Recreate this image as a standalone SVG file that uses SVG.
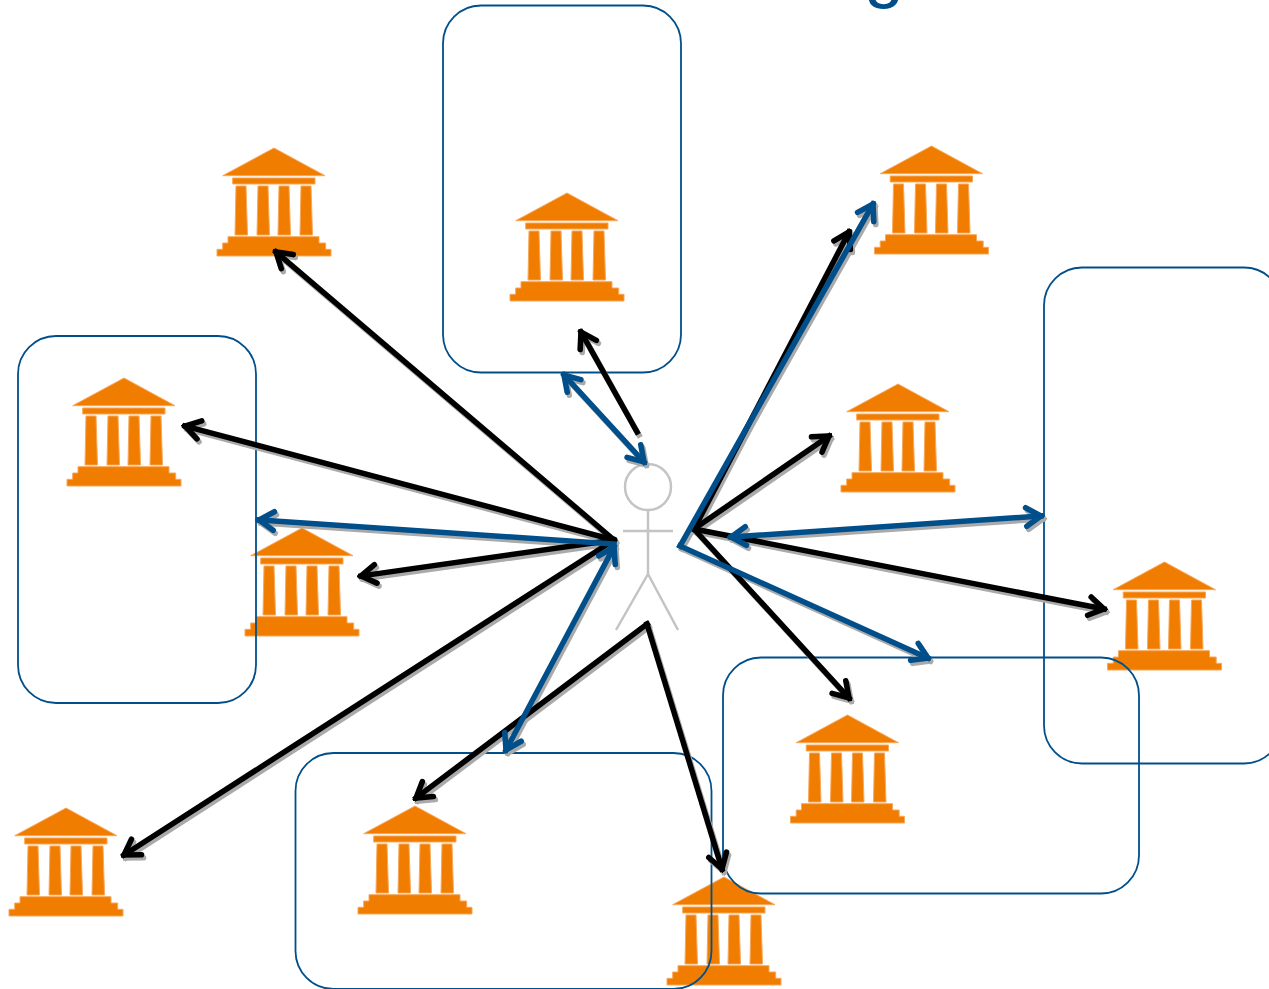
<svg xmlns="http://www.w3.org/2000/svg" width="1269" height="989" viewBox="0 0 1269 989">
<style>
.box{fill:none;stroke:#004f8b;stroke-width:1.8}
.bank{fill:#f07d00;stroke:#f7a85a;stroke-width:1}
.k,.b,.s{fill:none;stroke-width:5.500;stroke-linecap:square}
.k{stroke:#000;marker-end:url(#ak)}
.b{stroke:#004f8b;marker-end:url(#ab)}
.bb{marker-start:url(#ab)}
.s{stroke:#aaa;marker-end:url(#as)}
.sb{marker-start:url(#as)}
.p{fill:none;stroke:#c4c4c4;stroke-width:2.500}
.t{font-family:"Liberation Sans",Arial,sans-serif;font-size:72px;fill:#004f8b}
</style>
<defs>
<marker id="ak" viewBox="-1 -1 14 14" refX="11" refY="6" markerUnits="userSpaceOnUse" markerWidth="26" markerHeight="26" orient="auto-start-reverse"><path d="M3 1 11 6 3 11" fill="none" stroke="#000" stroke-width="3" stroke-linecap="round"/></marker>
<marker id="ab" viewBox="-1 -1 14 14" refX="11" refY="6" markerUnits="userSpaceOnUse" markerWidth="26" markerHeight="26" orient="auto-start-reverse"><path d="M3 1 11 6 3 11" fill="none" stroke="#004f8b" stroke-width="3" stroke-linecap="round"/></marker>
<marker id="as" viewBox="-1 -1 14 14" refX="11" refY="6" markerUnits="userSpaceOnUse" markerWidth="26" markerHeight="26" orient="auto-start-reverse"><path d="M3 1 11 6 3 11" fill="none" stroke="#aaa" stroke-width="3" stroke-linecap="round"/></marker>
<g id="bank-icon" class="bank">
<path d="M57 0 108 27.7H5.700Z"/>
<path d="M15.700 30H98V36H15.700Z"/>
<path d="M19 38H29L30.500 87H18Z"/>
<path d="M41 38H51L52.500 87H40Z"/>
<path d="M62 38H72L73.500 87H61Z"/>
<path d="M84 38H94L95.500 87H83Z"/>
<path d="M11 88.700H102V95H108.700V101.300H114V108H0V101.300H5.700V95H11Z"/>
</g>
</defs>
<rect width="1269" height="989" fill="#fff"/>
<text class="t" x="864" y="-6">g</text>
<g id="person">
<circle class="p" cx="648" cy="487" r="23"/>
<path class="p" d="M648 510V574M623 531H673M648 574 616 630M648 574 678 630"/>
</g>
<g id="nodes">
<g id="bank-1"><use href="#bank-icon" x="217" y="148"/></g>
<g id="bank-2"><use href="#bank-icon" x="510" y="193"/></g>
<g id="bank-3"><use href="#bank-icon" x="874.500" y="146"/></g>
<g id="bank-4"><use href="#bank-icon" x="841" y="384"/></g>
<g id="bank-5"><use href="#bank-icon" x="67" y="378"/></g>
<g id="bank-6"><use href="#bank-icon" x="245" y="528"/></g>
<g id="bank-7"><use href="#bank-icon" x="1107.500" y="562"/></g>
<g id="bank-8"><use href="#bank-icon" x="790.500" y="715"/></g>
<g id="bank-9"><use href="#bank-icon" x="358" y="806"/></g>
<g id="bank-10"><use href="#bank-icon" x="9" y="808"/></g>
<g id="bank-11"><use href="#bank-icon" x="667" y="877"/></g>
<g id="box-top"><rect class="box" x="443" y="5.500" width="238" height="367" rx="38"/></g>
<g id="box-left"><rect class="box" x="18" y="336" width="238" height="367" rx="38"/></g>
<g id="box-right"><rect class="box" x="1044" y="267.500" width="238" height="496" rx="38"/></g>
<g id="box-lower-right"><rect class="box" x="723" y="657.500" width="416" height="236" rx="38"/></g>
<g id="box-bottom"><rect class="box" x="295.500" y="753" width="416" height="236" rx="38"/></g>
</g>
<g id="connector-shadows" transform="translate(2 3)">
<path class="s" d="M614 540 276 252"/>
<path class="s" d="M614 540 185 426"/>
<path class="s" d="M614 540 361 576"/>
<path class="s" d="M614 540 124 855"/>
<path class="s" d="M637 432 581 332"/>
<path class="s" d="M647 624 416 798"/>
<path class="s" d="M647 624 722 869"/>
<path class="s" d="M694 529 849 232"/>
<path class="s" d="M694 529 829 436"/>
<path class="s" d="M694 529 1104 609"/>
<path class="s" d="M694 529 849 698"/>
<path class="s sb" d="M644 462 564 375"/>
<path class="s" d="M614 544 259 520"/>
<path class="s sb" d="M614 547 506 750"/>
<path class="s sb" d="M731 537 1041 516"/>
<path class="s" d="M680 546 873 204"/>
<path class="s" d="M680 546 928 658"/>
</g>
<g id="connectors">
<path class="k" d="M614 540 276 252"/>
<path class="k" d="M614 540 185 426"/>
<path class="k" d="M614 540 361 576"/>
<path class="k" d="M614 540 124 855"/>
<path class="k" d="M637 432 581 332"/>
<path class="k" d="M647 624 416 798"/>
<path class="k" d="M647 624 722 869"/>
<path class="k" d="M694 529 849 232"/>
<path class="k" d="M694 529 829 436"/>
<path class="k" d="M694 529 1104 609"/>
<path class="k" d="M694 529 849 698"/>
<path class="b bb" d="M644 462 564 375"/>
<path class="b" d="M614 544 259 520"/>
<path class="b bb" d="M614 547 506 750"/>
<path class="b bb" d="M731 537 1041 516"/>
<path class="b" d="M680 546 873 204"/>
<path class="b" d="M680 546 928 658"/>
</g>
</svg>
